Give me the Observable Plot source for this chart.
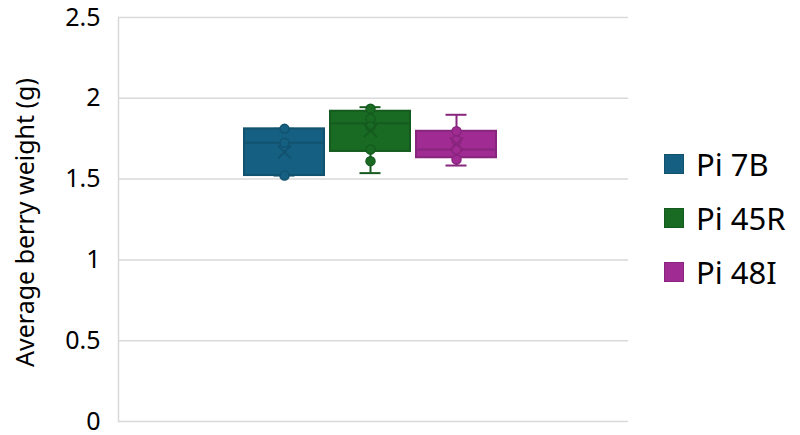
<!DOCTYPE html>
<html><head><meta charset="utf-8">
<script src="https://cdn.jsdelivr.net/npm/d3@7"></script>
<script src="https://cdn.jsdelivr.net/npm/@observablehq/plot@0.6"></script>
<style>
body{margin:0;background:#fff;font-family:"Noto Sans",sans-serif;}
#wrap{position:relative;width:800px;height:435px;}
#legend{position:absolute;left:0;top:0;}
.item{position:absolute;display:flex;align-items:center;white-space:nowrap;font-size:31px;line-height:40px;height:40px;color:#000;}
.sw{width:20px;height:20px;box-sizing:border-box;margin-right:12px;border:1.5px solid}
</style></head><body><div id="wrap"><div id="chart"></div><div id="legend"></div></div>
<script>
// Data
const series = ["Pi 7B", "Pi 45R", "Pi 48I"];
const q1 = [1.522, 1.671, 1.632];
const median = [1.725, 1.846, 1.683];
const q3 = [1.811, 1.920, 1.796];
const whiskerLow = [1.522, 1.537, 1.584];
const whiskerHigh = [1.811, 1.945, 1.898];
const means = [1.667, 1.800, 1.718];
const pts7B = [1.811, 1.725, 1.522];
const pts45R = [1.935, 1.873, 1.825, 1.683, 1.611];
const pts48I = [1.796, 1.739, 1.683, 1.621];
const yTicks = [0, 0.5, 1, 1.5, 2, 2.5];
const yLabel = "Average berry weight (g)";

// Styles
const fills = ["#156082", "#196B24", "#A02B93"];
const darks = fills.map(c => d3.color(c).darker(0.45).formatHex());
const darkOf = s => darks[series.indexOf(s)];

const boxes = series.map((s, i) => ({s, q1: q1[i], med: median[i], q3: q3[i], lo: whiskerLow[i], hi: whiskerHigh[i], mean: means[i]}));
const pts = [[pts7B, series[0]], [pts45R, series[1]], [pts48I, series[2]]]
  .flatMap(([arr, s]) => arr.map(v => ({s, v})));

const chart = Plot.plot({
  width: 800, height: 435,
  marginLeft: 118, marginRight: 172, marginTop: 17, marginBottom: 14,
  style: {fontFamily: "'Noto Sans', sans-serif", background: "#fff", color: "#000", overflow: "visible"},
  x: {domain: series, range: [237, 503], padding: 0.075, axis: null},
  y: {domain: [0, 2.5]},
  color: {domain: series, range: fills},
  marks: [
    Plot.gridY(yTicks, {stroke: "#d9d9d9", strokeOpacity: 1, strokeWidth: 1.5}),
    Plot.frame({anchor: "left", stroke: "#d9d9d9", strokeWidth: 1.5}),
    Plot.axisY({ticks: yTicks, tickSize: 0, tickPadding: 18, fontSize: 25, tickFormat: d => String(d), label: null}),
    Plot.text([yLabel], {frameAnchor: "left", rotate: -90, dx: -93, dy: 3, fontSize: 25, textAnchor: "middle", lineAnchor: "middle", fill: "#000"}),
    Plot.ruleX(boxes, {x: "s", y1: "lo", y2: "q1", stroke: d => darkOf(d.s), strokeWidth: 2}),
    Plot.ruleX(boxes, {x: "s", y1: "q3", y2: "hi", stroke: d => darkOf(d.s), strokeWidth: 2}),
    Plot.tickY(boxes, {x: "s", y: "lo", stroke: d => darkOf(d.s), strokeWidth: 2, insetLeft: 29.5, insetRight: 29.5}),
    Plot.tickY(boxes, {x: "s", y: "hi", stroke: d => darkOf(d.s), strokeWidth: 2, insetLeft: 29.5, insetRight: 29.5}),
    Plot.barY(boxes, {x: "s", y1: "q1", y2: "q3", fill: "s", stroke: d => darkOf(d.s), strokeWidth: 2}),
    Plot.tickY(boxes, {x: "s", y: "med", stroke: d => darkOf(d.s), strokeWidth: 2}),
    Plot.dot(pts, {x: "s", y: "v", r: 4.5, fill: "s", stroke: d => darkOf(d.s), strokeWidth: 1.5}),
    Plot.dot(boxes, {x: "s", y: "mean", symbol: "times", r: 6, stroke: d => darkOf(d.s), strokeWidth: 2})
  ]
});
document.getElementById("chart").appendChild(chart);

// Legend
const legend = document.getElementById("legend");
series.forEach((s, i) => {
  const item = document.createElement("div");
  item.className = "item";
  item.style.left = "664px";
  item.style.top = (164 + i * 54 - 20) + "px";
  const sw = document.createElement("div");
  sw.className = "sw";
  sw.style.background = fills[i];
  sw.style.borderColor = darks[i];
  const t = document.createElement("span");
  t.textContent = s;
  item.appendChild(sw);
  item.appendChild(t);
  legend.appendChild(item);
});
</script>
</body></html>
